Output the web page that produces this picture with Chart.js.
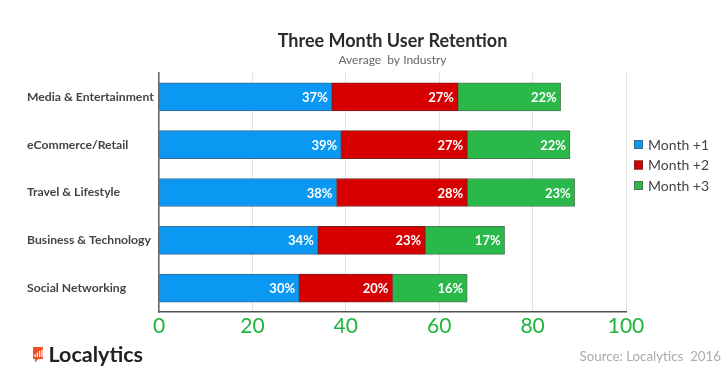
<!DOCTYPE html>
<html><head><meta charset="utf-8">
<script src="https://cdn.jsdelivr.net/npm/chart.js@4"></script>
<style>html,body{margin:0;padding:0;background:#fff}#wrap{width:728px;height:381px;position:relative}</style>
</head><body><div id="wrap"><canvas id="c" width="728" height="381"></canvas></div>
<script>
const categories = ["Media & Entertainment","eCommerce/Retail","Travel & Lifestyle","Business & Technology","Social Networking"];
const month1 = [37,39,38,34,30];
const month2 = [27,27,28,23,20];
const month3 = [22,22,23,17,16];
const seriesNames = ["Month +1","Month +2","Month +3"];
const xTickValues = [0,20,40,60,80,100];
const titleText = "Three Month User Retention";
const subtitleText = "Average  by Industry";
const sourceText = "Source: Localytics  2016";
const brandText = "Localytics";

const FONT = "Lato, 'Open Sans', sans-serif";
const fills = ["#0b98f2","#d60000","#2bb84b"];
const borders = ["#3a6a90","#7a2020","#4a7a50"];

const valueLabels = {
  id: 'valueLabels',
  afterDatasetsDraw(chart) {
    const ctx = chart.ctx;
    ctx.save();
    ctx.font = "bold 13px " + FONT;
    ctx.fillStyle = "#fff";
    ctx.textAlign = "right";
    ctx.textBaseline = "middle";
    chart.data.datasets.forEach((ds, di) => {
      chart.getDatasetMeta(di).data.forEach((bar, i) => {
        ctx.fillText(ds.data[i] + "%", bar.x - 4, bar.y + 1);
      });
    });
    ctx.restore();
  }
};

const extras = {
  id: 'extras',
  afterDraw(chart) {
    const ctx = chart.ctx;
    ctx.save();
    // legend
    chart.data.datasets.forEach((ds, i) => {
      const y = 145 + i * 20.5;
      ctx.fillStyle = ds.backgroundColor;
      ctx.fillRect(634, y - 5, 9, 9);
      ctx.strokeStyle = ds.borderColor;
      ctx.lineWidth = 1;
      ctx.strokeRect(634.5, y - 4.5, 8, 8);
      ctx.fillStyle = "#444";
      ctx.font = "14px " + FONT;
      ctx.textAlign = "left";
      ctx.textBaseline = "middle";
      ctx.fillText(ds.label, 648, y);
    });
    // source
    ctx.fillStyle = "#aaaaaa";
    ctx.font = "13.3px " + FONT;
    ctx.textAlign = "right";
    ctx.textBaseline = "alphabetic";
    ctx.fillText(sourceText, 721, 361);
    // logo icon
    ctx.fillStyle = "#f04e23";
    ctx.fillRect(33, 347, 10, 12);
    ctx.beginPath();
    ctx.moveTo(35, 359); ctx.lineTo(38, 359); ctx.lineTo(35, 362.5); ctx.closePath(); ctx.fill();
    ctx.fillStyle = "#fff";
    ctx.fillRect(34.5, 354, 1.2, 3);
    ctx.fillRect(36.8, 352.5, 1.2, 4.5);
    ctx.fillRect(39.1, 351, 1.2, 6);
    ctx.fillRect(41.4, 349.5, 1.2, 7.5);
    ctx.fillStyle = "#222";
    ctx.font = "bold 21.5px " + FONT;
    ctx.textAlign = "left";
    ctx.fillText(brandText, 48.5, 361.5);
    ctx.restore();
  }
};

new Chart(document.getElementById('c'), {
  type: 'bar',
  data: {
    labels: categories,
    datasets: [month1, month2, month3].map((d, i) => ({
      label: seriesNames[i],
      data: d,
      backgroundColor: fills[i],
      borderColor: borders[i],
      borderWidth: 1,
      borderSkipped: false,
      barThickness: 28
    }))
  },
  options: {
    indexAxis: 'y',
    responsive: false,
    animation: false,
    devicePixelRatio: 1,
    layout: { padding: { left: 27, right: 102, top: 0, bottom: 39 } },
    plugins: {
      legend: { display: false },
      tooltip: { enabled: false },
      title: {
        display: true, text: titleText, fullSize: false,
        color: "#2b2b2b",
        font: { family: FONT, size: 18, weight: 'bold', lineHeight: 1.2 },
        padding: { top: 30, bottom: 0 }
      },
      subtitle: {
        display: true, text: subtitleText, fullSize: false,
        color: "#666",
        font: { family: FONT, size: 12, lineHeight: 1.2 },
        padding: { top: 1, bottom: 6 }
      }
    },
    scales: {
      x: {
        stacked: true, min: 0, max: 100,
        afterBuildTicks(scale) { scale.ticks = xTickValues.map(v => ({ value: v })); },
        afterFit(scale) { scale.height = 30; },
        ticks: { color: "#1fb53b", font: { family: FONT, size: 21 }, padding: 2 },
        grid: { color: "#e2e2e2", lineWidth: 1, drawTicks: false },
        border: { color: "#555", width: 1.5 }
      },
      y: {
        stacked: true,
        afterFit(scale) { scale.width = 132; },
        ticks: { crossAlign: 'far', color: "#444", font: { family: FONT, size: 12.2, weight: 'bold' } },
        grid: { display: false },
        border: { color: "#666", width: 1.5 }
      }
    }
  },
  plugins: [valueLabels, extras]
});
</script>
</body></html>
